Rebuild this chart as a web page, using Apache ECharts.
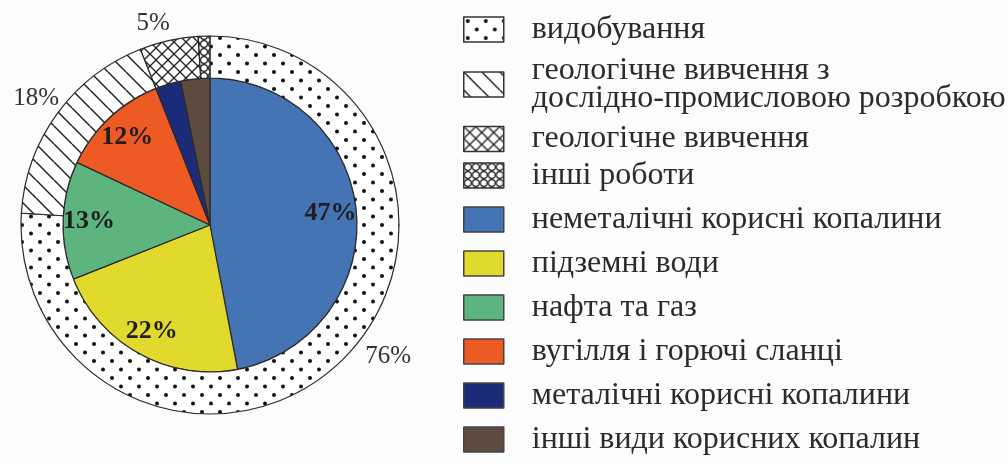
<!DOCTYPE html>
<html>
<head>
<meta charset="utf-8">
<script src="https://cdn.jsdelivr.net/npm/echarts@6/dist/echarts.min.js"></script>
<style>
  html, body { margin: 0; padding: 0; background: #fcfcfc; }
  #chart { width: 1008px; height: 464px; }
</style>
</head>
<body>
<div id="chart"></div>
<script>
// зовнішнє кільце: види робіт
const outerNames = ['видобування', 'геологічне вивчення з\nдослідно-промисловою розробкою', 'геологічне вивчення', 'інші роботи'];
const outerValues = [76, 18, 5, 1];
// внутрішнє коло: види корисних копалин
const innerNames = ['неметалічні корисні копалини', 'підземні води', 'нафта та газ', 'вугілля і горючі сланці', 'металічні корисні копалини', 'інші види корисних копалин'];
const innerValues = [47, 22, 13, 12, 2.8, 3.2];
const innerColors = ['#4474b3', '#e1da2d', '#5eb47f', '#ee5a24', '#1c2b78', '#5d4b3f'];

const FONT = "'Liberation Serif', 'Times New Roman', serif";

// патерни для кільця
function makeTile(w, h, draw) {
  let c = document.createElement('canvas');
  c.width = w; c.height = h;
  let ctx = c.getContext('2d');
  ctx.fillStyle = '#ffffff';
  ctx.fillRect(0, 0, w, h);
  ctx.strokeStyle = '#222';
  ctx.fillStyle = '#111';
  draw(ctx, w, h);
  return { image: c, repeat: 'repeat' };
}
const dots = makeTile(18, 17, function (ctx) {
  [[4, 4], [13, 12.5]].forEach(function (p) {
    ctx.beginPath(); ctx.arc(p[0], p[1], 2, 0, Math.PI * 2); ctx.fill();
  });
});
const hatch = makeTile(18, 18, function (ctx) {
  ctx.lineWidth = 1.5;
  for (let i = -1; i <= 1; i++) {
    ctx.beginPath(); ctx.moveTo(i * 18, 0); ctx.lineTo(i * 18 + 18, 18); ctx.stroke();
  }
});
const cross = makeTile(12, 12, function (ctx) {
  ctx.lineWidth = 1.3;
  for (let i = -1; i <= 1; i++) {
    ctx.beginPath(); ctx.moveTo(i * 12, 0); ctx.lineTo(i * 12 + 12, 12); ctx.stroke();
    ctx.beginPath(); ctx.moveTo(i * 12 + 12, 0); ctx.lineTo(i * 12, 12); ctx.stroke();
  }
});
const rings = makeTile(8, 8, function (ctx) {
  ctx.lineWidth = 1.2;
  ctx.beginPath(); ctx.arc(4, 4, 3.4, 0, Math.PI * 2); ctx.stroke();
});
const outerPatterns = [dots, hatch, cross, rings];

let chart = echarts.init(document.getElementById('chart'), null, { renderer: 'canvas' });

const legendText = { fontFamily: FONT, fontSize: 32, color: '#2b2b2b', lineHeight: 28, padding: [0, 0, 0, 23] };

function legendBlock(names, top, gap, border) {
  return {
    data: names,
    orient: 'vertical',
    left: 463, top: top,
    height: 300,
    padding: 0,
    itemWidth: 40, itemHeight: 25, itemGap: gap,
    icon: 'rect',
    selectedMode: false,
    itemStyle: { borderColor: border, borderWidth: 1.5 },
    textStyle: legendText
  };
}

chart.setOption({
  backgroundColor: '#fcfcfc',
  animation: false,
  legend: [
    legendBlock(outerNames.slice(0, 2), 13.5, 9, '#333'),
    legendBlock(outerNames.slice(2), 123, 4.5, '#333'),
    legendBlock(innerNames, 203.5, 12, '#444')
  ],
  series: [
    {
      name: 'копалини',
      type: 'pie',
      center: [210, 225],
      radius: [0, 147],
      silent: true,
      label: { show: false },
      labelLine: { show: false },
      itemStyle: { borderColor: '#2a2a2a', borderWidth: 1.2 },
      data: innerNames.map(function (n, i) {
        return { name: n, value: innerValues[i], itemStyle: { color: innerColors[i] } };
      })
    },
    {
      name: 'роботи',
      type: 'pie',
      center: [210, 225],
      radius: [147, 189],
      silent: true,
      label: { show: false },
      labelLine: { show: false },
      itemStyle: { borderColor: '#2a2a2a', borderWidth: 1.2 },
      data: outerNames.map(function (n, i) {
        return { name: n, value: outerValues[i], itemStyle: { color: outerPatterns[i] } };
      })
    },
    // підписи внутрішнього кола
    {
      type: 'pie',
      center: [210, 225],
      radius: [89, 147],
      silent: true,
      itemStyle: { color: 'transparent', borderWidth: 0 },
      label: {
        position: 'inside',
        fontFamily: FONT, fontSize: 26, fontWeight: 'bold', color: '#1e1e1e',
        formatter: function (p) { return p.value >= 5 ? p.value + '%' : ''; }
      },
      labelLine: { show: false },
      data: innerNames.map(function (n, i) { return { name: n, value: innerValues[i] }; })
    },
    // підписи зовнішнього кільця
    {
      type: 'pie',
      center: [210, 225],
      radius: [189, 235],
      silent: true,
      itemStyle: { color: 'transparent', borderWidth: 0 },
      label: {
        position: 'inside',
        fontFamily: FONT, fontSize: 25, color: '#333',
        formatter: function (p) { return p.value >= 5 ? p.value + '%' : ''; }
      },
      labelLine: { show: false },
      data: outerNames.map(function (n, i) {
        let d = { name: n, value: outerValues[i] };
        if (i === 0) d.label = { offset: [31, -25] };
        if (i === 2) d.label = { offset: [-10, 8] };
        return d;
      })
    }
  ]
});
</script>
</body>
</html>
